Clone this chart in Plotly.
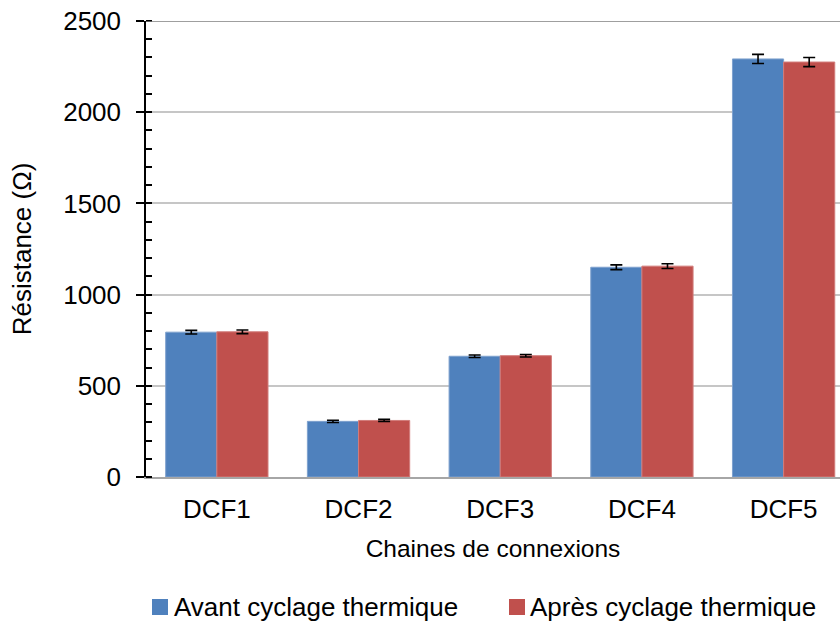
import plotly.graph_objects as go

categories = ["DCF1", "DCF2", "DCF3", "DCF4", "DCF5"]
avant = [794, 305, 662, 1150, 2292]
apres = [796, 310, 665, 1156, 2275]
err_avant = [10, 6, 7, 13, 25]
err_apres = [10, 6, 7, 13, 25]
series_names = ["Avant cyclage thermique", "Après cyclage thermique"]
colors = ["#4F81BD", "#C0504D"]
edge_colors = ["#7EA1CE", "#D27C7A"]

FONT = "Liberation Sans, Arial, sans-serif"

fig = go.Figure()
for name, vals, errs, c, ec in zip(series_names, [avant, apres], [err_avant, err_apres], colors, edge_colors):
    fig.add_trace(go.Bar(
        x=categories, y=vals, name=name, showlegend=False,
        marker=dict(color=c, line=dict(color=ec, width=1)),
        error_y=dict(type="data", array=errs, visible=True, color="black", thickness=1.6, width=6),
    ))

# plot geometry
L, T, B = 146, 21, 145
W, H = 840, 622
pw = W - L
ph = H - T - B

fig.update_layout(
    width=W, height=H,
    margin=dict(l=L, r=0, t=T, b=B, autoexpand=False),
    paper_bgcolor="white", plot_bgcolor="white",
    barmode="group", bargap=0.278, bargroupgap=0,
    font=dict(family=FONT, size=26, color="black"),
    xaxis=dict(
        range=[-0.5, 4.398], showgrid=False, showline=True, linecolor="#A6A6A6", linewidth=1.5,
        ticks="", ticklabelstandoff=8, tickfont=dict(size=26),
        title=dict(text="Chaines de connexions", font=dict(size=24.5), standoff=17),
    ),
    yaxis=dict(
        range=[0, 2500], dtick=500, showgrid=True, gridcolor="#C6C6C6", gridwidth=1.5,
        showline=True, linecolor="black", linewidth=1.5, zeroline=False,
        ticks="outside", ticklen=8, tickwidth=1.5, tickcolor="black", ticklabelstandoff=10,
        tickfont=dict(size=26),
        minor=dict(dtick=100, ticks="inside", ticklen=6, tickwidth=1.5, tickcolor="black", showgrid=False),
        title=dict(text="Résistance (Ω)", font=dict(size=26), standoff=24),
    ),
    showlegend=False,
)

# top border line
fig.add_shape(type="line", xref="paper", yref="y", x0=0, x1=1, y0=2500, y1=2500,
              line=dict(color="#7F7F7F", width=1.5), layer="above")

# manual legend
def px_x(px):
    return (px - L) / pw

def px_y(py):
    return (H - B - py) / ph

legend_items = [(152, 172), (509, 528)]
ly = 607
for (sx, tx), name, c in zip(legend_items, series_names, colors):
    fig.add_shape(type="rect", xref="paper", yref="paper",
                  x0=px_x(sx), x1=px_x(sx + 16), y0=px_y(ly + 8), y1=px_y(ly - 8),
                  fillcolor=c, line=dict(width=0))
    fig.add_annotation(xref="paper", yref="paper", x=px_x(tx), y=px_y(ly),
                       text=name, showarrow=False, xanchor="left", yanchor="middle",
                       font=dict(size=26, family=FONT, color="black"))

fig.write_html("out.html", config={"displayModeBar": False},
               post_script="document.body.style.margin='0';document.body.style.padding='0';")
